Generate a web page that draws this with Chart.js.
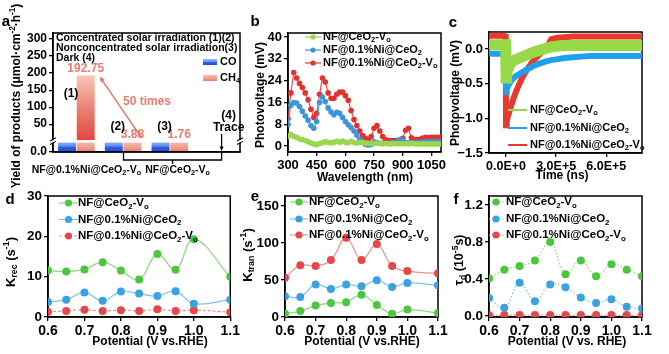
<!DOCTYPE html>
<html>
<head>
<meta charset="utf-8">
<script src="https://cdn.jsdelivr.net/npm/chart.js@4.4.1/dist/chart.umd.min.js"></script>
<style>
  body { margin: 0; background: #fff; }
  #wrap { position: relative; width: 669px; height: 354px; overflow: hidden; background: #fff; }
  canvas { position: absolute; }
</style>
</head>
<body>
<div id="wrap">
  <canvas id="pa"></canvas><canvas id="pb"></canvas><canvas id="pc"></canvas>
  <canvas id="pd"></canvas><canvas id="pe"></canvas><canvas id="pf"></canvas>
</div>
<script>
// ---------- data ----------
const sampleLabels = ['NF@CeO_2-V_o', 'NF@0.1%Ni@CeO_2', 'NF@0.1%Ni@CeO_2-V_o'];

// (a) product yields, umol cm-2 h-1
const yieldConditions = ['(1)', '(2)', '(3)', '(4)'];
const yieldCO = [1.4, 1.3, 1.2, 0];
const yieldCH4 = [192.75, 3.88, 1.76, 0];
const yieldTicks = [50, 100, 150, 200, 250, 300];
const yieldSamples = ['NF@0.1%Ni@CeO_2-V_o', 'NF@CeO_2-V_o'];
const yieldNotes = ['Concentrated solar irradiation (1)(2)', 'Nonconcentrated solar irradiation(3)', 'Dark (4)'];

// (b) surface photovoltage spectra
const wavelength = [300, 315, 330, 345, 360, 375, 390, 405, 420, 435, 450, 465, 480, 495, 510, 525, 540, 555,
  570, 585, 600, 615, 630, 645, 660, 675, 690, 705, 720, 735, 750, 765, 780, 795, 810, 825, 840, 855,
  870, 885, 900, 915, 930, 945, 960, 975, 990, 1005, 1020, 1035, 1050, 1065, 1080, 1095];
const spsGreen = [3.5, 4.3, 3.6, 3.2, 2.6, 2.4, 2, 1.6, 1.1, 0.7, 0.5, 1, 1.2, 1.6, 1.3, 1.2, 1.4, 1.7,
  1.4, 1.8, 1.4, 1.2, 1.7, 1.3, 1.1, 1.4, 1.3, 1.1, 1, 1, 0.9, 1, 0.9, 0.8, 0.9, 0.8, 0.8, 0.9,
  0.8, 0.8, 0.9, 0.8, 0.8, 0.9, 0.8, 0.8, 0.7, 0.8, 0.7, 0.8, 0.7, 0.7, 0.8, 0.7];
const spsBlue = [8, 15, 16, 15.8, 14.5, 12.8, 11, 9.5, 7.5, 6.5, 9, 16, 18, 16.3, 14, 12.5, 11.5, 12.4,
  12, 10.5, 9, 7.8, 6.8, 5.5, 4, 2.5, 1.5, 0.6, 0.4, 0.6, 1.5, 1.2, 1, 1, 1, 1, 1.2, 1.2,
  1.5, 2.4, 2, 1.2, 1.2, 1.2, 1.3, 1.3, 1.3, 1.5, 1.5, 1.5, 1.5, 1.5, 1.5, 1.5];
const spsRed = [10, 19.5, 27, 25, 23, 21.5, 19.5, 17, 13.5, 10.5, 12, 19, 25, 23.5, 19.5, 17.5, 17.5, 19,
  19.8, 19.8, 18.5, 16.8, 13, 9.7, 7.5, 5.5, 3.8, 2.8, 2.4, 3.5, 6.5, 7.5, 5.5, 3.5, 2.4, 2, 2, 2,
  2, 2, 2.8, 5.8, 6.5, 3, 2.4, 2.4, 2.5, 2.9, 3.2, 3.1, 3.2, 3.2, 3.2, 3.2];
const wavelengthTicks = [300, 450, 600, 750, 900, 1050];
const spsTicks = [0, 8, 16, 24, 32, 40];

// (c) transient photovoltage
const timeNs = [-102000, -60000, -20000, -2000, 0, 4000, 10000, 20000, 30000, 45000, 60000, 80000, 100000,
  130000, 160000, 200000, 240000, 270000, 300000, 350000, 400000, 450000, 500000, 550000, 600000,
  650000, 700000, 750000, 814000];
const tpvGreen = [0.06, 0.06, 0.06, 0.06, -0.42, -0.36, -0.3, -0.24, -0.2, -0.17, -0.15, -0.13, -0.11,
  -0.08, -0.05, -0.02, 0.01, 0.03, 0.04, 0.05, 0.05, 0.05, 0.05, 0.05, 0.05, 0.05, 0.05, 0.05, 0.05];
const tpvBlue = [-0.07, -0.07, -0.07, -0.07, -0.62, -0.58, -0.54, -0.5, -0.46, -0.42, -0.39, -0.36, -0.33,
  -0.29, -0.25, -0.21, -0.18, -0.16, -0.15, -0.13, -0.12, -0.11, -0.1, -0.1, -0.1, -0.1, -0.1, -0.1, -0.1];
const tpvRed = [0.19, 0.19, 0.19, 0.18, -1.1, -1.05, -0.98, -0.9, -0.82, -0.71, -0.61, -0.5, -0.4,
  -0.28, -0.18, -0.08, 0.0, 0.14, 0.16, 0.17, 0.18, 0.18, 0.18, 0.18, 0.18, 0.18, 0.18, 0.18, 0.18];
const timeTicks = [0, 300000, 600000];
const tpvTicks = [0, -0.5, -1, -1.5];

// (d)(e)(f) kinetics vs potential
const potential = [0.6, 0.65, 0.7, 0.75, 0.8, 0.85, 0.9, 0.95, 1.0, 1.1];
const potentialTau = [0.6, 0.65, 0.7, 0.75, 0.8, 0.85, 0.9, 0.95, 1.0, 1.05, 1.1];
const krecGreen = [11.5, 11.3, 11.8, 13.6, 11.5, 9.3, 15.6, 11.7, 19.3, 10];
const krecBlue = [3.7, 4.3, 6.1, 4.0, 6.3, 5.8, 5.2, 6.4, 3.3, 4.3];
const krecRed = [1.3, 1.5, 1.8, 1.5, 1.7, 1.5, 1.9, 1.5, 1.7, 1.2];
const ktranGreen = [4.5, 8, 15.4, 19, 20, 30, 16.3, 4.5, 10, 5.4];
const ktranBlue = [28, 27, 44, 38, 44, 41.5, 49.7, 40.7, 46, 43];
const ktranRed = [53, 70, 69, 77, 107, 77, 98.5, 69, 62, 59];
const tauGreen = [0.405, 0.5, 0.54, 0.6, 0.8, 0.45, 0.6, 0.43, 0.56, 0.5, 0.43];
const tauBlue = [0.195, 0.09, 0.36, 0.16, 0.34, 0.31, 0.2, 0.14, 0.18, 0.1, 0.08];
const tauRed = [0.01, 0.01, 0.01, 0.01, 0.01, 0.01, 0.01, 0.01, 0.01, 0.01, 0.01];
const potentialTicks = [0.6, 0.7, 0.8, 0.9, 1.0, 1.1];
const krecTicks = [0, 10, 20, 30];
const ktranTicks = [0, 50, 100, 150];
const tauTicks = [0, 0.4, 0.8, 1.2];

// ---------- helpers ----------
const FONT = '"Liberation Sans", Arial, Helvetica, sans-serif';
Chart.defaults.font.family = FONT;
Chart.defaults.color = '#000';

const pts = (xs, ys) => xs.map((x, i) => ({ x, y: ys[i] }));

// 'CeO_2' -> subscript 2, 's^{-1}' -> superscript -1
function parseRich(s) {
  const parts = []; let buf = '', i = 0;
  while (i < s.length) {
    const ch = s[i];
    if ((ch === '_' || ch === '^') && i + 1 < s.length) {
      if (buf) { parts.push({ t: buf, m: 0 }); buf = ''; }
      let t;
      if (s[i + 1] === '{') { const j = s.indexOf('}', i); t = s.slice(i + 2, j); i = j + 1; }
      else { t = s[i + 1]; i += 2; }
      parts.push({ t, m: ch === '_' ? 1 : -1 });
    } else { buf += ch; i++; }
  }
  if (buf) parts.push({ t: buf, m: 0 });
  return parts;
}

function rich(c, str, x, y, size, color, align, rot) {
  const parts = parseRich(str);
  const fontOf = p => `bold ${p.m ? size * 0.68 : size}px ${FONT}`;
  let w = 0;
  parts.forEach(p => { c.font = fontOf(p); p.w = c.measureText(p.t).width; w += p.w; });
  c.save();
  c.translate(x, y);
  if (rot) c.rotate(rot);
  c.fillStyle = color;
  c.textBaseline = 'middle';
  let cx = align === 'center' ? -w / 2 : align === 'right' ? -w : 0;
  parts.forEach(p => {
    c.font = fontOf(p);
    const dy = p.m === 1 ? size * 0.3 : p.m === -1 ? -size * 0.33 : 0;
    c.fillText(p.t, cx, dy);
    cx += p.w;
  });
  c.restore();
}

function arrow(c, x1, y1, x2, y2, color, lw, head) {
  const ang = Math.atan2(y2 - y1, x2 - x1);
  c.strokeStyle = color; c.fillStyle = color; c.lineWidth = lw;
  c.beginPath(); c.moveTo(x1, y1);
  c.lineTo(x2 - Math.cos(ang) * head * 0.8, y2 - Math.sin(ang) * head * 0.8); c.stroke();
  c.beginPath(); c.moveTo(x2, y2);
  c.lineTo(x2 - head * Math.cos(ang - 0.4), y2 - head * Math.sin(ang - 0.4));
  c.lineTo(x2 - head * Math.cos(ang + 0.4), y2 - head * Math.sin(ang + 0.4));
  c.closePath(); c.fill();
}

function seriesLegend(c, chart, o) {
  chart.data.datasets.forEach((ds, i) => {
    const y = o.ys[i];
    c.strokeStyle = ds.borderColor; c.lineWidth = o.lw || 1.2;
    c.setLineDash(ds.borderDash || []);
    c.beginPath(); c.moveTo(o.x1, y); c.lineTo(o.x2, y); c.stroke();
    c.setLineDash([]);
    if (o.r) {
      c.fillStyle = ds.pointBackgroundColor;
      c.beginPath(); c.arc(o.dot, y, o.r, 0, Math.PI * 2); c.fill();
    }
    rich(c, ds.label, o.tx, y, o.size, '#000', 'left');
  });
}

function axis(kind, fit, size, tickVals, fmt, extra) {
  return Object.assign({
    type: 'linear',
    border: { display: true, color: '#000', width: 1.5 },
    grid: { drawOnChartArea: false, drawTicks: true, tickLength: 4, color: '#000', lineWidth: 1.3 },
    ticks: { color: '#000', font: { family: FONT, size, weight: 'bold' }, padding: 2,
      maxRotation: 0, autoSkip: false, callback: fmt },
    afterBuildTicks: s => { s.ticks = tickVals.map(v => ({ value: v })); },
    afterFit: s => { if (kind === 'x') s.height = fit; else s.width = fit; }
  }, extra);
}

// box: canvas [left, top, w, h]; area: plot [left, top, right, bottom], page pixels
function build(id, box, area, config, draw, frameLast) {
  const cv = document.getElementById(id);
  cv.width = box[2]; cv.height = box[3];
  cv.style.left = box[0] + 'px'; cv.style.top = box[1] + 'px';
  config.options = Object.assign({
    responsive: false, animation: false, devicePixelRatio: 1,
    layout: { padding: { left: 0, bottom: 0, top: area[1] - box[1], right: box[0] + box[2] - area[2] } },
    plugins: { legend: { display: false }, tooltip: { enabled: false } }
  }, config.options);
  const frame = chart => {
    const a = chart.chartArea, c = chart.ctx;
    c.save(); c.strokeStyle = '#000'; c.lineWidth = 1.5;
    c.strokeRect(a.left, a.top, a.right - a.left, a.bottom - a.top); c.restore();
  };
  config.plugins = [{
    id: 'deco_' + id,
    beforeDatasetsDraw(chart) { if (!frameLast) frame(chart); },
    afterDraw(chart) {
      if (frameLast) frame(chart);
      const c = chart.ctx; c.save(); c.translate(-box[0], -box[1]); draw(chart, c, box); c.restore();
    }
  }];
  return new Chart(cv, config);
}
const fitY = (box, area) => area[0] - box[0];
const fitX = (box, area) => box[1] + box[3] - area[3];

// ---------- (a) ----------
(function () {
  const box = [0, 0, 250, 190], area = [53, 33, 240, 152];
  const grad = (ctx, top, bottom, stops) => {
    const g = ctx.createLinearGradient(0, top, 0, bottom);
    stops.forEach(s => g.addColorStop(s[0], s[1]));
    return g;
  };
  const coStops = [[0, '#9ab9f6'], [0.45, '#5f8ff0'], [0.55, '#2f5fe6'], [1, '#1e4bd6']];
  const chStubStops = [[0, '#f6bfb0'], [0.5, '#f1a393'], [1, '#e8806f']];
  const chBarStops = [[0, '#f7c7ba'], [0.55, '#ea7c6c'], [1, '#e0453f']];
  const fill = (stops, big) => ctx => {
    const s = ctx.chart.scales[ctx.dataset.yAxisID];
    if (!s || s.bottom === undefined) return stops[2][1];
    const top = big ? s.getPixelForValue(ctx.raw || 0) : s.top;
    return grad(ctx.chart.ctx, top, s.bottom, stops);
  };
  build('pa', box, area, {
    type: 'bar',
    data: {
      labels: yieldConditions,
      datasets: [
        { label: 'CO', data: yieldCO, yAxisID: 'yHigh', stack: 'co', backgroundColor: fill(coStops, true) },
        { label: 'CH_4', data: yieldCH4, yAxisID: 'yHigh', stack: 'ch4', backgroundColor: fill(chBarStops, true) },
        { label: 'CO', data: yieldCO, yAxisID: 'yLow', stack: 'co', backgroundColor: fill(coStops, false) },
        { label: 'CH_4', data: yieldCH4, yAxisID: 'yLow', stack: 'ch4', backgroundColor: fill(chStubStops, false) }
      ]
    },
    options: {
      datasets: { bar: { categoryPercentage: 0.8, barPercentage: 0.96 } },
      scales: {
        x: { type: 'category', offset: true,
          border: { display: true, color: '#000', width: 1.5 },
          grid: { display: false }, ticks: { display: false },
          afterFit: s => { s.height = fitX(box, area); } },
        yLow: axis('y', fitY(box, area), 12, [0], () => '0.0',
          { position: 'left', stack: 'a', stackWeight: 1, min: 0, max: 1, stacked: false }),
        yHigh: axis('y', fitY(box, area), 12, yieldTicks, v => v,
          { position: 'left', stack: 'a', stackWeight: 10, min: 0, max: 318, stacked: false })
      }
    }
  }, (chart, c, b) => {
    const X = v => v + b[0], Y = v => v + b[1];
    const a = chart.chartArea, hi = chart.scales.yHigh, lo = chart.scales.yLow, xs = chart.scales.x;
    const sal = '#e77d6c';
    // axis break
    const yb = Y(hi.bottom);
    c.fillStyle = '#fff';
    c.fillRect(X(a.left) - 5, yb - 1.2, a.right - a.left + 10, 2.6);
    c.strokeStyle = '#000'; c.lineWidth = 1.1;
    [X(a.left), X(a.right)].forEach(x => {
      [-1.8, 1.8].forEach(d => { c.beginPath(); c.moveTo(x - 3, yb + d + 1.6); c.lineTo(x + 3, yb + d - 1.6); c.stroke(); });
    });
    // notes
    yieldNotes.forEach((t, i) => rich(c, t, X(a.left) + 3, Y(a.top) + 5 + i * 10, 10.5, '#000', 'left'));
    // legend boxes
    [['CO', coStops, 62], ['CH_4', chStubStops, 78]].forEach(([t, st, y]) => {
      c.fillStyle = grad(c, y - 3, y + 3, st);
      c.fillRect(203, y - 3, 14, 6);
      rich(c, t, 220, y, 11, '#000', 'left');
    });
    // value labels
    const hiCH4 = chart.getDatasetMeta(1).data, loCO = chart.getDatasetMeta(2).data, loCH4 = chart.getDatasetMeta(3).data;
    rich(c, yieldCH4[0].toFixed(2), X(hiCH4[0].x), Y(hiCH4[0].y) - 7, 12, sal, 'center');
    [1, 2].forEach(j => rich(c, yieldCH4[j].toFixed(2), X(loCH4[j].x), Y(lo.top) - 6, 12, sal, 'center'));
    // condition markers
    rich(c, yieldConditions[0], X(loCO[0].x) + 4, 94, 12, '#000', 'center');
    rich(c, yieldConditions[1], X(loCO[1].x) + 4, 127, 12, '#000', 'center');
    rich(c, yieldConditions[2], X(loCO[2].x) + 4, 127, 12, '#000', 'center');
    const c4 = X(xs.getPixelForValue(3));
    rich(c, yieldConditions[3], c4 + 12, 116, 12, '#000', 'center');
    rich(c, 'Trace', c4 + 12, 128, 12, '#000', 'center');
    arrow(c, c4 + 5, 134, c4 + 5, Y(a.bottom) - 1, '#000', 1.2, 5);
    // 50 times
    arrow(c, 141, 137, X(hiCH4[0].x + hiCH4[0].width / 2) + 5, Y(hiCH4[0].y) + 1, '#d9796b', 1.4, 6);
    rich(c, '50 times', 147, 102, 12, sal, 'center');
    // bracket + sample labels
    const x1 = X(loCH4[1].x - loCH4[1].width / 2), x2 = c4 + 5, y0 = Y(a.bottom), y1 = y0 + 8, xm = (x1 + x2) / 2;
    c.strokeStyle = '#000'; c.lineWidth = 1.3;
    c.beginPath(); c.moveTo(x1, y0); c.lineTo(x1, y1); c.lineTo(x2, y1); c.lineTo(x2, y0);
    c.moveTo(xm, y1); c.lineTo(xm, y1 + 4); c.stroke();
    rich(c, yieldSamples[0], X(xs.getPixelForValue(0)) + 10, y0 + 18, 10.5, '#000', 'center');
    rich(c, yieldSamples[1], xm + 5, y0 + 18, 10.5, '#000', 'center');
    // titles
    rich(c, 'Yield of products (μmol·cm^{-2}·h^{-1})', 17, 96, 12, '#000', 'center', -Math.PI / 2);
    rich(c, 'a', 6, 22, 15, '#000', 'center');
  }, true);
})();

// ---------- (b) ----------
(function () {
  const box = [245, 0, 205, 190], area = [288, 33, 441, 152];
  const cols = ['#9bd64f', '#3d95dc', '#e3312e'];
  const series = [spsGreen, spsBlue, spsRed];
  build('pb', box, area, {
    type: 'line',
    data: {
      datasets: series.map((s, i) => ({
        label: sampleLabels[i], data: pts(wavelength, s), borderColor: cols[i], borderWidth: 1,
        pointBackgroundColor: cols[i], pointBorderWidth: 0, pointRadius: 2.8, tension: 0
      }))
    },
    options: {
      scales: {
        x: axis('x', fitX(box, area), 13, wavelengthTicks, v => v, { min: 300, max: 1100 }),
        y: axis('y', fitY(box, area), 13, spsTicks, v => v, { min: -2.2, max: 41.5 })
      }
    }
  }, (chart, c) => {
    seriesLegend(c, chart, { x1: 305, x2: 321, dot: 313, tx: 323, ys: [37, 50, 63], size: 11, r: 2.6 });
    rich(c, 'Photovoltage (mV)', 261, 95, 12, '#000', 'center', -Math.PI / 2);
    rich(c, 'Wavelength (nm)', 365, 178, 12, '#000', 'center');
    rich(c, 'b', 255, 22, 15, '#000', 'center');
  });
})();

// ---------- (c) ----------
(function () {
  const box = [444, 0, 225, 190], area = [489, 32, 642, 153];
  const cols = ['#98d94a', '#1fa0ee', '#e83a2c'];
  const widths = [11, 6, 6];
  const series = [tpvGreen, tpvBlue, tpvRed];
  build('pc', box, area, {
    type: 'line',
    data: {
      datasets: series.map((s, i) => ({
        label: sampleLabels[i], data: pts(timeNs, s), borderColor: cols[i], borderWidth: widths[i],
        pointRadius: 0, tension: 0, borderJoinStyle: 'miter'
      }))
    },
    options: {
      scales: {
        x: axis('x', fitX(box, area), 12.5, timeTicks, v => v.toExponential(1).replace('e', 'E'),
          { min: -102000, max: 814000 }),
        y: axis('y', fitY(box, area), 13, tpvTicks, v => v.toFixed(1).replace('-', '−'),
          { min: -1.5, max: 0.245 })
      }
    }
  }, (chart, c) => {
    seriesLegend(c, chart, { x1: 508, x2: 527, tx: 530, ys: [110, 128, 145], size: 11, lw: 2 });
    rich(c, 'Photovoltage (mV)', 456, 93, 12, '#000', 'center', -Math.PI / 2);
    rich(c, 'Time (ns)', 562, 176, 12, '#000', 'center');
    rich(c, 'c', 453, 23, 15, '#000', 'center');
  });
})();

// ---------- (d)(e)(f) ----------
const markerCols = ['#4bc73e', '#3ba2e2', '#e5484a'];
const lineCols = ['#8ad97d', '#7fc1ea', '#ee8f8f'];
function kinetics(id, box, area, xs, series, yTicks, yMin, yMax, yFmt, dash, deco) {
  build(id, box, area, {
    type: 'line',
    data: {
      datasets: series.map((s, i) => ({
        label: sampleLabels[i], data: pts(xs, s), borderColor: lineCols[i], borderWidth: 1.2,
        borderDash: dash[i], pointBackgroundColor: markerCols[i], pointBorderWidth: 0,
        pointRadius: 4, tension: 0.4
      }))
    },
    options: {
      scales: {
        x: axis('x', fitX(box, area), 14, potentialTicks, v => v.toFixed(1), { min: 0.6, max: 1.1 }),
        y: axis('y', fitY(box, area), 13.5, yTicks, yFmt, { min: yMin, max: yMax })
      }
    }
  }, deco);
}

kinetics('pd', [0, 185, 242, 169], [48, 196, 240, 317], potential, [krecGreen, krecBlue, krecRed],
  krecTicks, 0, 30, v => v, [[], [], [3, 2]], (chart, c) => {
    seriesLegend(c, chart, { x1: 59, x2: 78, dot: 68.5, tx: 78, ys: [203, 219.5, 236], size: 11.5, r: 3.6 });
    rich(c, 'K_{rec} (s^{-1})', 11, 262, 13, '#000', 'center', -Math.PI / 2);
    rich(c, 'Potential (V vs.RHE)', 150, 342, 12, '#000', 'center');
    rich(c, 'd', 10, 200, 15, '#000', 'center');
  });

kinetics('pe', [238, 185, 212, 169], [285, 196, 438, 317], potential, [ktranGreen, ktranBlue, ktranRed],
  ktranTicks, 0, 163.5, v => v, [[], [], []], (chart, c) => {
    seriesLegend(c, chart, { x1: 290, x2: 308, dot: 299, tx: 309, ys: [202, 219, 235], size: 11.5, r: 3.6 });
    rich(c, 'K_{tran} (s^{-1})', 248, 255, 13, '#000', 'center', -Math.PI / 2);
    rich(c, 'Potential (V vs.RHE)', 362, 342, 12, '#000', 'center');
    rich(c, 'e', 255, 197, 15, '#000', 'center');
  });

kinetics('pf', [448, 185, 221, 169], [489, 196, 642, 317], potentialTau, [tauGreen, tauBlue, tauRed],
  tauTicks, -0.011, 1.297, v => v.toFixed(1), [[1.5, 2], [1.5, 2], [1.5, 2]], (chart, c) => {
    seriesLegend(c, chart, { x1: 489, x2: 504, dot: 496, tx: 506, ys: [202, 219, 235], size: 11.5, r: 3.6 });
    rich(c, 'τ_d (10^{-5}s)', 460, 260, 12.5, '#000', 'center', -Math.PI / 2);
    rich(c, 'Potential (V vs. RHE)', 567, 342, 12, '#000', 'center');
    rich(c, 'f', 456, 200, 15, '#000', 'center');
  });
</script>
</body>
</html>
